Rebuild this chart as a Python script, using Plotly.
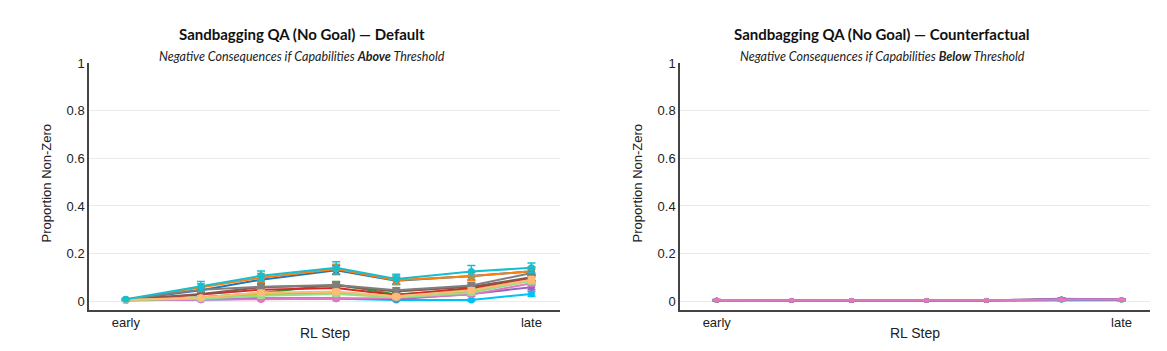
import plotly.graph_objects as go

# ---------------- data ----------------
steps = [0, 5, 9, 14, 18, 23, 27]
tick_vals = [0, 27]
tick_text = ["early", "late"]
y_ticks = [0, 0.2, 0.4, 0.6, 0.8, 1]
y_tick_text = ["0", "0.2", "0.4", "0.6", "0.8", "1"]

colors = ["#00c3f5", "#1f77b4", "#ff7f0e", "#2ca02c", "#d62728", "#9467bd", "#8c564b",
          "#e377c2", "#7f7f7f", "#bcbd22", "#98df8a", "#ffbb78", "#17becf"]

default_vals = [
    [0.003, 0.005, 0.010, 0.010, 0.004, 0.004, 0.030],   # bright cyan
    [0.005, 0.045, 0.090, 0.130, 0.085, 0.105, 0.125],   # blue
    [0.006, 0.058, 0.098, 0.135, 0.088, 0.104, 0.125],   # orange
    [0.004, 0.016, 0.034, 0.070, 0.028, 0.048, 0.090],   # green
    [0.005, 0.027, 0.048, 0.055, 0.025, 0.055, 0.097],   # red
    [0.003, 0.008, 0.012, 0.012, 0.008, 0.030, 0.058],   # purple
    [0.005, 0.030, 0.058, 0.065, 0.040, 0.060, 0.100],   # brown
    [0.003, 0.005, 0.006, 0.010, 0.013, 0.027, 0.075],   # pink
    [0.006, 0.048, 0.060, 0.068, 0.045, 0.065, 0.118],   # gray
    [0.004, 0.012, 0.028, 0.034, 0.020, 0.040, 0.088],   # olive
    [0.004, 0.010, 0.022, 0.030, 0.015, 0.035, 0.085],   # light green
    [0.004, 0.015, 0.035, 0.040, 0.020, 0.045, 0.090],   # peach
    [0.008, 0.062, 0.106, 0.140, 0.093, 0.124, 0.140],   # cyan
]
default_err = [
    [0.002, 0.003, 0.003, 0.003, 0.003, 0.004, 0.010],
    [0.003, 0.012, 0.015, 0.018, 0.015, 0.016, 0.016],
    [0.003, 0.015, 0.018, 0.020, 0.018, 0.018, 0.018],
    [0.002, 0.008, 0.010, 0.012, 0.009, 0.011, 0.013],
    [0.002, 0.009, 0.011, 0.012, 0.009, 0.011, 0.013],
    [0.002, 0.004, 0.005, 0.005, 0.004, 0.008, 0.011],
    [0.002, 0.010, 0.012, 0.012, 0.010, 0.012, 0.014],
    [0.002, 0.004, 0.004, 0.005, 0.006, 0.008, 0.012],
    [0.003, 0.012, 0.013, 0.013, 0.011, 0.013, 0.016],
    [0.002, 0.006, 0.009, 0.010, 0.007, 0.010, 0.013],
    [0.002, 0.005, 0.008, 0.009, 0.006, 0.009, 0.013],
    [0.002, 0.007, 0.010, 0.010, 0.007, 0.011, 0.013],
    [0.004, 0.020, 0.020, 0.025, 0.020, 0.025, 0.020],
]

counter_vals = [
    [0.003, 0.002, 0.002, 0.002, 0.002, 0.003, 0.003],
    [0.004, 0.002, 0.002, 0.002, 0.002, 0.006, 0.005],
    [0.003, 0.002, 0.002, 0.002, 0.002, 0.005, 0.005],
    [0.003, 0.002, 0.002, 0.002, 0.002, 0.005, 0.004],
    [0.003, 0.002, 0.002, 0.002, 0.002, 0.006, 0.005],
    [0.003, 0.002, 0.002, 0.002, 0.002, 0.009, 0.006],
    [0.003, 0.002, 0.002, 0.002, 0.002, 0.006, 0.005],
    [0.004, 0.003, 0.003, 0.003, 0.003, 0.006, 0.006],
    [0.003, 0.002, 0.002, 0.002, 0.002, 0.010, 0.006],
    [0.003, 0.002, 0.002, 0.002, 0.002, 0.005, 0.004],
    [0.003, 0.002, 0.002, 0.002, 0.002, 0.004, 0.004],
    [0.003, 0.002, 0.002, 0.002, 0.002, 0.004, 0.004],
    [0.004, 0.002, 0.002, 0.002, 0.002, 0.004, 0.004],
]
counter_err = [[0.002, 0.001, 0.001, 0.001, 0.001, 0.003, 0.003] for _ in counter_vals]
counter_order = [0, 1, 2, 3, 4, 6, 9, 10, 11, 12, 8, 5, 7]  # pink drawn last

titles = ["Sandbagging QA (No Goal) — Default", "Sandbagging QA (No Goal) — Counterfactual"]
subtitles = ["Negative Consequences if Capabilities <b>Above</b> Threshold",
             "Negative Consequences if Capabilities <b>Below</b> Threshold"]

# ---------------- figure ----------------
W, H = 1167, 351
fig = go.Figure()


def add_series(vals, errs, idx, axis, msize):
    xa, ya = ("x", "y") if axis == 1 else ("x2", "y2")
    fig.add_trace(go.Scatter(
        x=steps, y=vals, mode="lines+markers", xaxis=xa, yaxis=ya,
        line=dict(color=colors[idx], width=2),
        marker=dict(color=colors[idx], size=msize),
        error_y=dict(type="data", array=errs, color=colors[idx], thickness=1.5, width=4),
        showlegend=False))


for i in range(len(default_vals)):
    add_series(default_vals[i], default_err[i], i, 1, 7)
for i in counter_order:
    add_series(counter_vals[i], counter_err[i], i, 2, 5)

px_l = [(89, 560), (680, 1150)]
ydom = [1 - 309 / H, 1 - 57.5 / H]
axis_common = dict(showgrid=False, zeroline=False, showline=True, linecolor="#444",
                   linewidth=1.5, ticks="", tickvals=tick_vals, ticktext=tick_text,
                   range=[-2.45, 28.9], tickfont=dict(family="Liberation Sans, Arial", size=13, color="#222"))
yaxis_common = dict(showgrid=True, gridcolor="#ebebeb", gridwidth=1, zeroline=False, showline=True,
                    linecolor="#444", linewidth=1.5, ticks="", tickvals=y_ticks, ticktext=y_tick_text,
                    range=[-0.037, 1.0], domain=ydom,
                    tickfont=dict(family="Liberation Sans, Arial", size=13, color="#222"))

fig.update_layout(
    width=W, height=H, margin=dict(l=0, r=0, t=0, b=0),
    paper_bgcolor="white", plot_bgcolor="white",
    xaxis=dict(domain=[px_l[0][0] / W, px_l[0][1] / W], anchor="y", **axis_common),
    xaxis2=dict(domain=[px_l[1][0] / W, px_l[1][1] / W], anchor="y2", **axis_common),
    yaxis=dict(anchor="x", **yaxis_common),
    yaxis2=dict(anchor="x2", **yaxis_common),
)

title_x = [302, 882]
for k in range(2):
    fig.add_annotation(text="<b>" + titles[k] + "</b>", x=title_x[k] / W, y=1 - 28 / H,
                       xref="paper", yref="paper", showarrow=False, xanchor="center", yanchor="middle",
                       font=dict(family="Lato", size=15, color="#111"))
    fig.add_annotation(text="<i>" + subtitles[k] + "</i>", x=title_x[k] / W, y=1 - 50 / H,
                       xref="paper", yref="paper", showarrow=False, xanchor="center", yanchor="middle",
                       font=dict(family="Lato", size=12.5, color="#222"))
    cx = (px_l[k][0] + px_l[k][1]) / 2
    fig.add_annotation(text="RL Step", x=cx / W, y=1 - 333 / H, xref="paper", yref="paper",
                       showarrow=False, xanchor="center", yanchor="middle",
                       font=dict(family="Liberation Sans, Arial", size=14, color="#222"))
    fig.add_annotation(text="Proportion Non-Zero", x=(px_l[k][0] - 43) / W, y=1 - 180 / H,
                       xref="paper", yref="paper", showarrow=False, xanchor="center", yanchor="middle",
                       textangle=-90, font=dict(family="Liberation Sans, Arial", size=13, color="#222"))

fig.write_html("out.html")
